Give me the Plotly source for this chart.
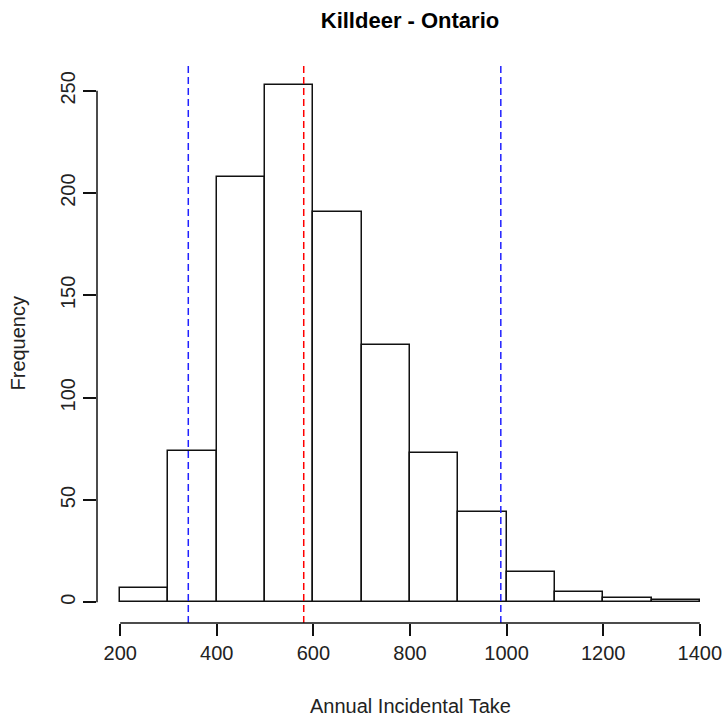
import plotly.graph_objects as go

# Histogram data
bin_edges = [200, 300, 400, 500, 600, 700, 800, 900, 1000, 1100, 1200, 1300, 1400]
counts = [7, 74, 208, 253, 191, 126, 73, 44, 15, 5, 2, 1]

# Reference lines
lower_q = 341
mean_val = 580
upper_q = 988

x_ticks = [200, 400, 600, 800, 1000, 1200, 1400]
y_ticks = [0, 50, 100, 150, 200, 250]

centers = [(a + b) / 2 for a, b in zip(bin_edges[:-1], bin_edges[1:])]
widths = [b - a for a, b in zip(bin_edges[:-1], bin_edges[1:])]

FONT = "Liberation Sans, Arial, sans-serif"
TXT = "#222222"

fig = go.Figure()
fig.add_trace(go.Bar(
    x=centers, y=counts, width=widths,
    marker=dict(color="white", line=dict(color="#111111", width=1.5)),
    hoverinfo="x+y", showlegend=False,
))

xr = [bin_edges[0] - 0.04 * (bin_edges[-1] - bin_edges[0]),
      bin_edges[-1] + 0.04 * (bin_edges[-1] - bin_edges[0])]
ymax = max(counts)
yr = [-0.04 * ymax, ymax * 1.04]

shapes = []
for v, c in [(lower_q, "#2020ff"), (mean_val, "#ff0000"), (upper_q, "#2020ff")]:
    shapes.append(dict(type="line", xref="x", yref="paper", x0=v, x1=v, y0=0, y1=1,
                       line=dict(color=c, width=1.5, dash="7px,4px")))
# R-style axis lines spanning first to last tick
shapes.append(dict(type="line", xref="x", yref="paper", x0=x_ticks[0], x1=x_ticks[-1],
                   y0=0, y1=0, line=dict(color="#111111", width=1.5)))
shapes.append(dict(type="line", xref="paper", yref="y", x0=0, x1=0,
                   y0=y_ticks[0], y1=y_ticks[-1], line=dict(color="#111111", width=1.5)))

fig.update_layout(
    width=723, height=717,
    margin=dict(l=97, r=0, t=64, b=94),
    plot_bgcolor="white", paper_bgcolor="white",
    font=dict(family=FONT, size=20, color=TXT),
    title=dict(text="<b>Killdeer - Ontario</b>", x=0.5, xref="paper",
               y=1 - 20 / 717, yref="container", yanchor="middle",
               font=dict(family=FONT, size=22, color="#000000")),
    xaxis=dict(range=xr, tickvals=x_ticks, ticktext=[str(t) for t in x_ticks],
               ticks="outside", ticklen=12, tickwidth=1.5, tickcolor="#111111",
               automargin=False,
               showgrid=False, zeroline=False, showline=False, fixedrange=True),
    yaxis=dict(range=yr, tickvals=y_ticks, ticktext=[str(t) for t in y_ticks],
               ticks="outside", ticklen=13, tickwidth=1.5, tickcolor="#111111",
               tickangle=-90, automargin=False,
               showgrid=False, zeroline=False, showline=False, fixedrange=True),
    shapes=shapes,
    bargap=0,
    annotations=[
        dict(text="Annual Incidental Take", xref="paper", yref="paper", x=0.5, y=0,
             yanchor="middle", yshift=-83, showarrow=False,
             font=dict(family=FONT, size=20, color=TXT)),
        dict(text="Frequency", xref="paper", yref="paper", x=0, y=0.5,
             xanchor="center", xshift=-80, textangle=-90, showarrow=False,
             font=dict(family=FONT, size=20, color=TXT)),
    ],
)

fig.write_html("out.html", config={"displayModeBar": False},
               post_script="document.body.style.margin='0';document.body.style.overflow='hidden';")
